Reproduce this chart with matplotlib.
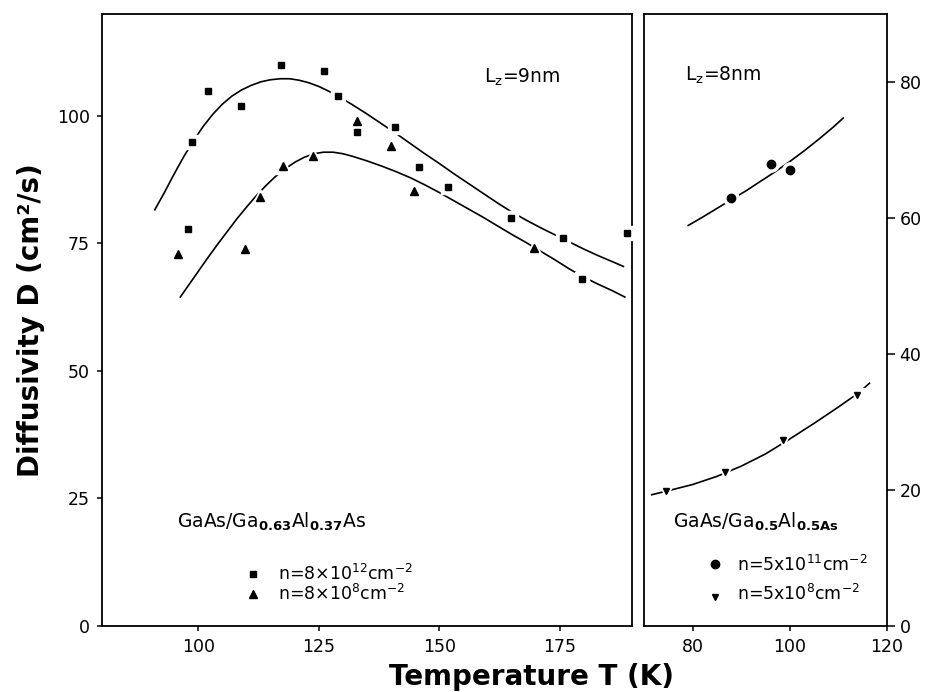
import numpy as np
import matplotlib
matplotlib.use('Agg')
import matplotlib.pyplot as plt

plt.rcParams['font.family'] = ['DejaVu Sans']
plt.rcParams['mathtext.default'] = 'regular'

# ---- left panel: Lz = 9 nm, GaAs/Ga0.63Al0.37As ----
T_sq = [97.9, 98.8, 102.0, 108.9, 117.1, 126.0, 129.0, 133.0, 140.9, 145.9, 151.8, 164.8, 175.7, 179.7, 188.9]
D_sq = [77.9, 94.9, 104.9, 101.9, 109.9, 108.9, 103.9, 96.9, 97.9, 90.0, 86.0, 80.0, 76.0, 68.1, 77.1]
T_tri = [95.8, 109.7, 112.8, 117.7, 123.8, 133.0, 139.9, 144.8, 169.7]
D_tri = [72.9, 74.0, 84.2, 90.2, 92.1, 99.0, 94.2, 85.3, 74.2]

# fitted curves
T_fit_hi = [91, 93, 95, 97, 99, 101, 103, 105, 107, 109, 111, 113, 115, 117, 119, 121, 123, 125,
            127, 129, 132, 135, 138, 141, 144, 147, 150, 153, 156, 159, 162, 165, 168, 171, 174,
            177, 180, 183, 186, 188.2]
D_fit_hi = [81.6, 85.0, 88.6, 92.0, 95.1, 97.9, 100.3, 102.3, 103.9, 105.1, 106.0, 106.7, 107.1,
            107.3, 107.3, 107.0, 106.5, 105.8, 104.9, 103.9, 102.2, 100.4, 98.5, 96.6, 94.6, 92.6,
            90.7, 88.7, 86.8, 84.9, 83.0, 81.2, 79.6, 78.1, 76.7, 75.3, 73.9, 72.6, 71.4, 70.5]
T_fit_lo = [96.3, 98, 100, 102, 104, 106, 108, 110, 112, 114, 116, 118, 120, 122, 124, 126, 128,
            130, 132, 135, 138, 141, 144, 147, 150, 153, 156, 159, 162, 165, 168, 171, 174, 177,
            180, 183, 186, 188.5]
D_fit_lo = [64.5, 66.8, 69.5, 72.2, 74.8, 77.3, 79.8, 82.1, 84.3, 86.3, 88.1, 89.6, 90.9, 91.9,
            92.6, 92.9, 92.9, 92.6, 92.1, 91.2, 90.2, 89.1, 87.9, 86.5, 85.0, 83.4, 81.8, 80.2,
            78.5, 76.8, 75.2, 73.5, 71.8, 70.0, 68.4, 67.0, 65.7, 64.5]

# ---- right panel: Lz = 8 nm, GaAs/Ga0.5Al0.5As ----
T_circ = [88.0, 96.1, 100.0]
D_circ = [63.0, 68.0, 67.1]
T_dn = [74.5, 86.7, 98.7, 113.8]
D_dn = [19.8, 22.6, 27.3, 34.0]

T_fit_circ = [79.1, 82, 85, 88, 91, 94, 97, 100, 103, 106, 109, 111]
D_fit_circ = [58.9, 60.1, 61.4, 62.7, 64.0, 65.4, 66.8, 68.3, 69.9, 71.6, 73.4, 74.7]
T_fit_dn = [71.6, 75, 80, 85, 90, 95, 100, 105, 110, 114, 116.4]
D_fit_dn = [19.3, 19.9, 20.8, 22.0, 23.5, 25.3, 27.5, 29.8, 32.2, 34.2, 35.7]

left_xticks = [100, 125, 150, 175]
left_yticks = [0, 25, 50, 75, 100]
right_xticks = [80, 100, 120]
right_yticks = [0, 20, 40, 60, 80]

fig = plt.figure(figsize=(9.25, 6.92), dpi=100)
ax1 = fig.add_axes([0.110, 0.0954, 0.5733, 0.8844])
ax2 = fig.add_axes([0.6962, 0.0954, 0.2627, 0.8844])

lw = 1.2


def pts(ax, x, y, marker, ms):
    # white halo first so the fitted line looks broken around each point
    ax.plot(x, y, ls='none', marker=marker, ms=ms + 5, color='white', mec='white', zorder=3)
    ax.plot(x, y, ls='none', marker=marker, ms=ms, color='black', mec='black', zorder=4)


# left panel
ax1.plot(T_fit_hi, D_fit_hi, color='black', lw=lw, zorder=2)
ax1.plot(T_fit_lo, D_fit_lo, color='black', lw=lw, zorder=2)
pts(ax1, T_sq, D_sq, 's', 5)
pts(ax1, T_tri, D_tri, '^', 6)
ax1.set_xlim(80, 190)
ax1.set_ylim(0, 120)
ax1.set_xticks(left_xticks)
ax1.set_yticks(left_yticks)

ax1.text(0.721, 0.888, r'L$_z$=9nm', transform=ax1.transAxes, fontsize=13.5, va='baseline')
ax1.text(0.141, 0.160, r'GaAs/Ga$_{\mathbf{0.63}}$Al$_{\mathbf{0.37}}$As', transform=ax1.transAxes,
         fontsize=13.5, va='baseline')
ax1.plot([0.285], [0.085], 's', ms=5, color='black', transform=ax1.transAxes, clip_on=False)
ax1.plot([0.285], [0.052], '^', ms=6, color='black', transform=ax1.transAxes, clip_on=False)
ax1.text(0.332, 0.075, r'n=8$\times$10$^{12}$cm$^{-2}$', transform=ax1.transAxes, fontsize=12.5, va='baseline')
ax1.text(0.332, 0.0425, r'n=8$\times$10$^{8}$cm$^{-2}$', transform=ax1.transAxes, fontsize=12.5, va='baseline')

# right panel
ax2.plot(T_fit_circ, D_fit_circ, color='black', lw=lw, zorder=2)
ax2.plot(T_fit_dn, D_fit_dn, color='black', lw=lw, zorder=2)
pts(ax2, T_circ, D_circ, 'o', 6)
pts(ax2, T_dn, D_dn, 'v', 5)
ax2.set_xlim(70, 120)
ax2.set_ylim(0, 90)
ax2.set_xticks(right_xticks)
ax2.set_yticks(right_yticks)
ax2.yaxis.tick_right()

ax2.text(0.169, 0.891, r'L$_z$=8nm', transform=ax2.transAxes, fontsize=13.5, va='baseline')
ax2.text(0.121, 0.160, r'GaAs/Ga$_{\mathbf{0.5}}$Al$_{\mathbf{0.5As}}$', transform=ax2.transAxes,
         fontsize=13.5, va='baseline')
ax2.plot([0.292], [0.102], 'o', ms=6, color='black', transform=ax2.transAxes, clip_on=False)
ax2.plot([0.292], [0.048], 'v', ms=5, color='black', transform=ax2.transAxes, clip_on=False)
ax2.text(0.384, 0.090, r'n=5x10$^{11}$cm$^{-2}$', transform=ax2.transAxes, fontsize=12.5, va='baseline')
ax2.text(0.384, 0.043, r'n=5x10$^{8}$cm$^{-2}$', transform=ax2.transAxes, fontsize=12.5, va='baseline')

for ax in (ax1, ax2):
    for sp in ax.spines.values():
        sp.set_linewidth(1.3)
    ax.tick_params(direction='out', length=3.6, width=1.1, labelsize=12.5, pad=5)
ax2.tick_params(axis='y', length=6, pad=3)

fig.text(0.034, 0.538, 'Diffusivity D (cm\u00b2/s)', rotation=90, fontsize=20, fontweight='bold',
         ha='center', va='center')
fig.text(0.575, 0.022, 'Temperature T (K)', fontsize=20, fontweight='bold', ha='center', va='center')

fig.savefig('out.png', dpi=100)
